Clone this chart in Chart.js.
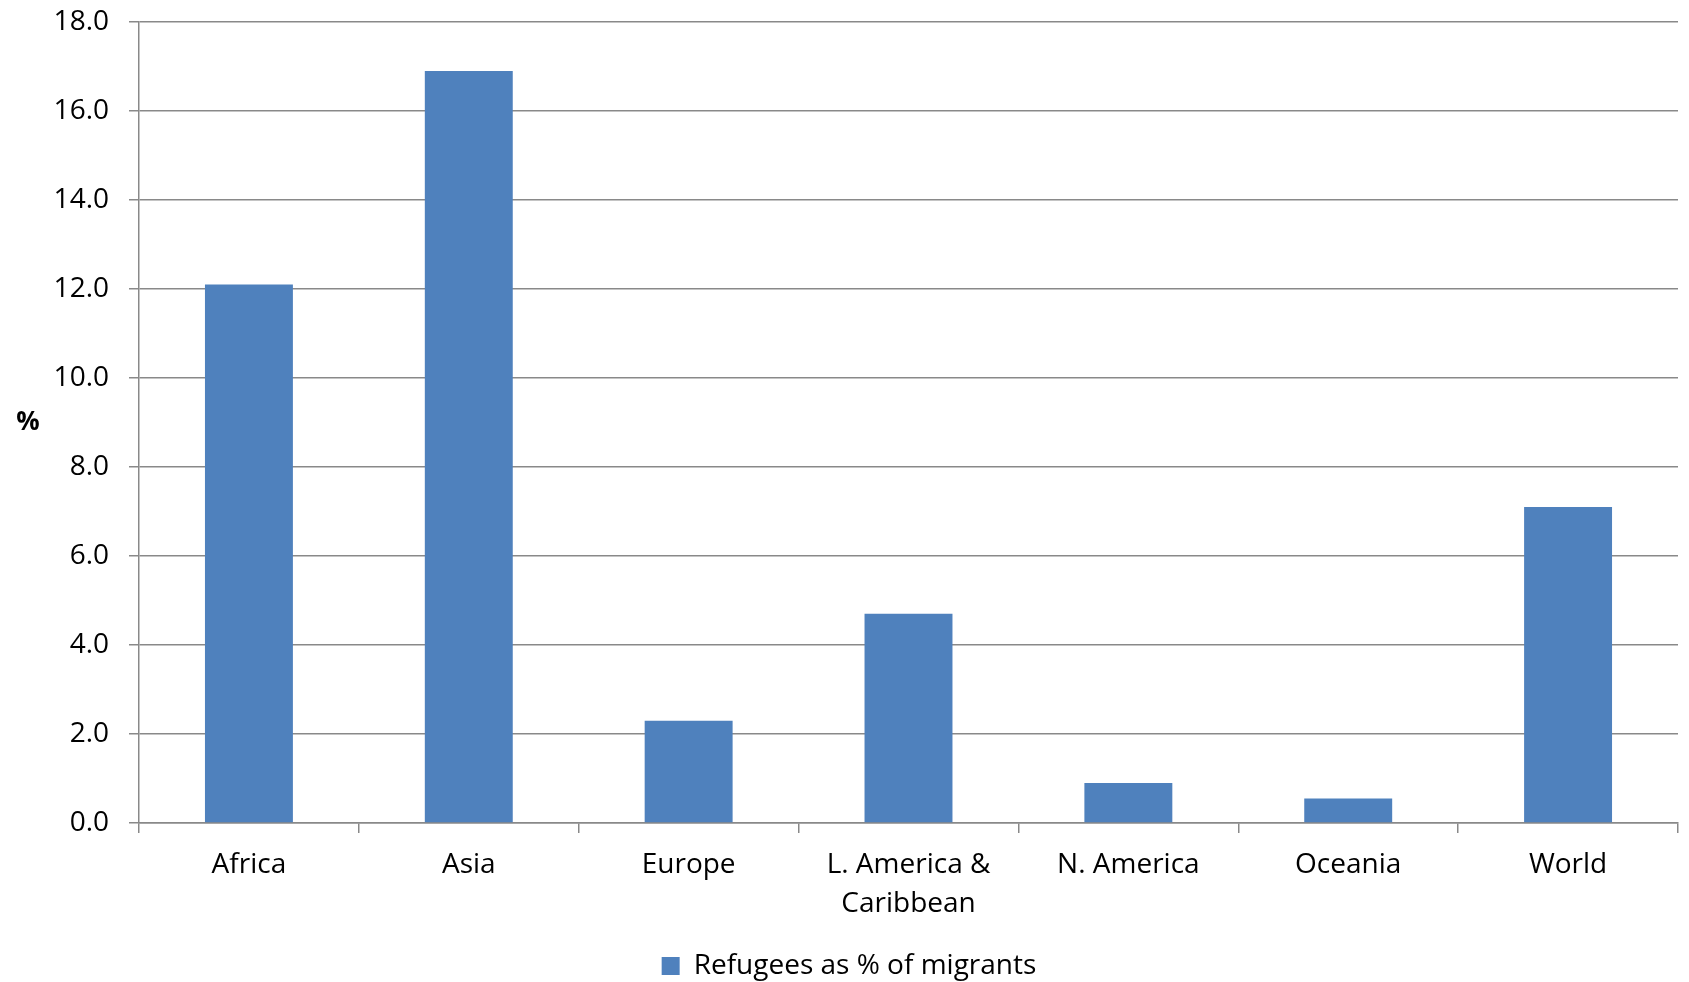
<!DOCTYPE html>
<html>
<head>
<meta charset="utf-8">
<script src="https://cdn.jsdelivr.net/npm/chart.js@4/dist/chart.umd.min.js"></script>
<style>
  html, body { margin: 0; padding: 0; background: #ffffff; }
  #wrap { position: relative; width: 1689px; height: 982px; }
</style>
</head>
<body>
<div id="wrap"><canvas id="chart"></canvas></div>
<script>
// Regions on the category axis (multi-line labels as arrays)
const regions = ['Africa', 'Asia', 'Europe', ['L. America &', 'Caribbean'], 'N. America', 'Oceania', 'World'];
// Refugees as a share of all international migrants, per region (%)
const refugeeShare = [12.1, 16.9, 2.3, 4.7, 0.9, 0.55, 7.1];
const seriesName = 'Refugees as % of migrants';
// Value axis range and tick step
const yMin = 0;
const yMax = 18;
const yStep = 2;
const yUnit = '%';

const FONT = '"Open Sans", "DejaVu Sans", sans-serif';
const AXIS_GREY = '#898989';
const BAR_BLUE = '#4F81BD';

// Draws the unit label horizontally, centred on the plot height, left of the value axis
const unitLabel = {
  id: 'unitLabel',
  afterDraw(chart) {
    const { ctx, chartArea } = chart;
    ctx.save();
    ctx.font = 'bold 26px ' + FONT;
    ctx.fillStyle = '#000';
    ctx.textAlign = 'center';
    ctx.textBaseline = 'middle';
    ctx.fillText(yUnit, 28, (chartArea.top + chartArea.bottom) / 2);
    ctx.restore();
  }
};

new Chart(document.getElementById('chart'), {
  type: 'bar',
  data: {
    labels: regions,
    datasets: [{
      label: seriesName,
      data: refugeeShare,
      backgroundColor: BAR_BLUE,
      borderWidth: 0,
      categoryPercentage: 1.0,
      barPercentage: 0.4
    }]
  },
  options: {
    responsive: true,
    maintainAspectRatio: false,
    animation: false,
    layout: { padding: { top: 22, right: 11, left: 20, bottom: -8 } },
    plugins: {
      legend: {
        position: 'bottom',
        labels: {
          color: '#000',
          font: { family: FONT, size: 28 },
          boxWidth: 18,
          boxHeight: 18,
          padding: 5
        }
      },
      tooltip: { enabled: false }
    },
    scales: {
      x: {
        offset: true,
        afterFit(scale) { scale.height = 124; },
        grid: {
          offset: true,
          drawOnChartArea: false,
          drawTicks: true,
          tickLength: 10,
          color: AXIS_GREY,
          lineWidth: 1.5
        },
        border: { display: true, color: AXIS_GREY, width: 1.5 },
        ticks: {
          color: '#000',
          font: { family: FONT, size: 28, lineHeight: 1.375 },
          padding: 13,
          maxRotation: 0,
          autoSkip: false
        }
      },
      y: {
        min: yMin,
        max: yMax,
        afterFit(scale) {
          scale.width = 119;
          scale.paddingTop = 0;
          scale.paddingBottom = 0;
        },
        grid: {
          color: AXIS_GREY,
          lineWidth: 1.5,
          tickLength: 10,
          drawTicks: true
        },
        border: { display: true, color: AXIS_GREY, width: 1.5 },
        ticks: {
          stepSize: yStep,
          color: '#000',
          font: { family: FONT, size: 28 },
          padding: 20,
          callback: (v) => Number(v).toFixed(1)
        }
      }
    }
  },
  plugins: [unitLabel]
});
</script>
</body>
</html>
